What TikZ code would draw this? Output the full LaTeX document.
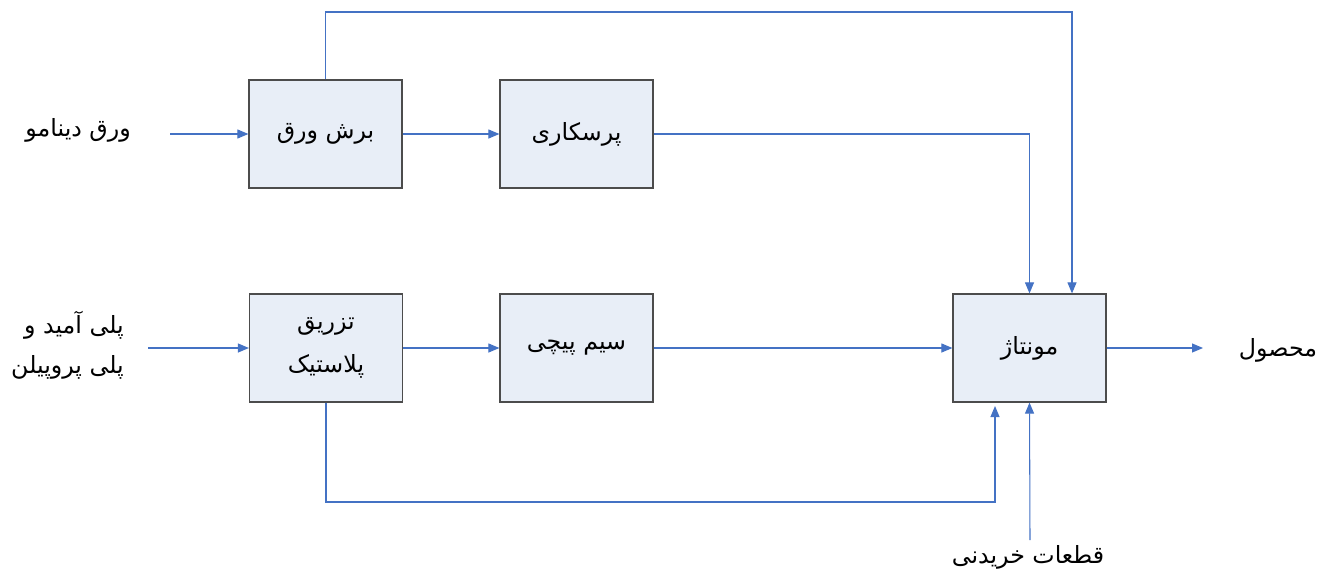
\documentclass[tikz,border=0pt]{standalone}
\usepackage{fontspec}
\newfontfamily\arabicfont[Script=Arabic]{DejaVu Sans}
\TeXXeTstate=1
\usetikzlibrary{positioning,arrows.meta}
\definecolor{flowblue}{HTML}{4472C4}
\definecolor{stagefill}{HTML}{E8EEF7}
\tikzstyle{stagenode}=[rectangle, draw=black!70, fill=stagefill, line width=0.7pt, minimum width=3.06cm, minimum height=2.16cm, align=center, font=\arabicfont\fontsize{13.5}{24}\selectfont]
\tikzstyle{inputnode}=[align=right, font=\arabicfont\fontsize{13.5}{23}\selectfont]
\tikzstyle{flow}=[flowblue, line width=0.6pt, -{Triangle[length=2.2mm,width=1.8mm]}]

\begin{document}
\begin{tikzpicture}[x=0.02cm,y=-0.02cm]
\useasboundingbox (0,0) rectangle (1328,578);
%Nodes
\node[stagenode]   (cut)      at (325.5,134)   {\beginR برش ورق\endR};
\node[stagenode]   (press)    at (576.5,134)   {\beginR پرسکاری\endR};
\node[stagenode]   (inject)   at (326,348)     {\beginR تزریق\endR\\\beginR پلاستیک\endR};
\node[stagenode]   (winding)  at (576.5,348)   {\beginR سیم پیچی\endR};
\node[stagenode]   (montage)  at (1029.5,348)  {\beginR مونتاژ\endR};
\node[inputnode, anchor=east]  (sheet)    at (137,130)   {\beginR ورق دینامو\endR};
\node[inputnode, anchor=east]  (polymer)  at (130,345)   {\beginR پلی آمید و\endR\\\beginR پلی پروپیلن\endR};
\node[inputnode]   (product)  at (1278,350)    {\beginR محصول\endR};
\node[inputnode]   (parts)    at (1028,557)    {\beginR قطعات خریدنی\endR};
\coordinate (sheetin)   at (170,134);
\coordinate (polyin)    at (148,348);
\coordinate (out)       at (1203,348);
\coordinate (top)       at (1072,12);
\coordinate (loop)      at (995,502);
\coordinate (loopend)   at (995,406);
\coordinate (partsin)   at (1030,540);
%Lines
\draw[flow] (sheetin) -- (cut.west);
\draw[flow] (cut.east) -- (press.west);
\draw[flow] (press.east) -| (montage.north);
\draw[flow] (cut.north) |- (top) -- (top |- montage.north);
\draw[flow] (polyin) -- (inject.west);
\draw[flow] (inject.east) -- (winding.west);
\draw[flow] (winding.east) -- (montage.west);
\draw[flow] (montage.east) -- (out);
\draw[flow] (inject.south) |- (loop) -- (loopend);
\draw[flow] (partsin) -- (montage.south);
\end{tikzpicture}
\end{document}
